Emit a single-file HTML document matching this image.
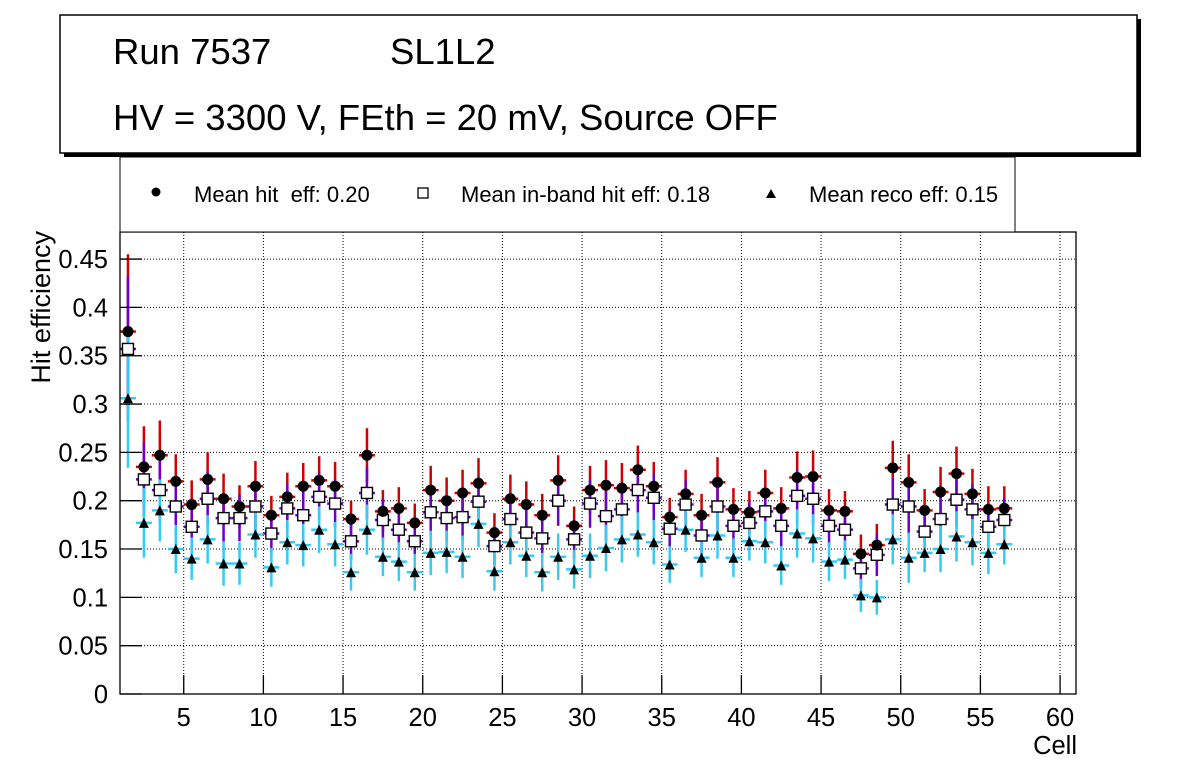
<!DOCTYPE html>
<html><head><meta charset="utf-8"><style>
body{margin:0;background:#fff;}
svg text{font-family:"Liberation Sans",sans-serif;}
</style></head><body>
<svg id="c" width="1196" height="772" xmlns="http://www.w3.org/2000/svg">
<rect x="0" y="0" width="1196" height="772" fill="#fff"/>
<g id="plot"></g>
<rect x="64" y="19" width="1077" height="138" fill="#000"/>
<rect x="60" y="15" width="1077" height="138" fill="#fff" stroke="#000" stroke-width="1.5"/>
<text x="113" y="64" font-size="36.5">Run 7537</text>
<text x="390" y="64" font-size="36.5">SL1L2</text>
<text x="113" y="130" font-size="36.5">HV = 3300 V, FEth = 20 mV, Source OFF</text>
<g>
<rect x="120" y="157" width="895" height="75" fill="#fff" stroke="#000" stroke-width="1"/>
<circle cx="156" cy="192" r="4.5" fill="#000"/>
<text x="194" y="202" font-size="22" xml:space="preserve">Mean hit  eff: 0.20</text>
<rect x="418" y="188" width="10" height="10" fill="#fff" stroke="#000" stroke-width="1.3"/>
<text x="461" y="202" font-size="22">Mean in-band hit eff: 0.18</text>
<path d="M766 198 L771 189 L776 198 Z" fill="#000"/>
<text x="809" y="202" font-size="22">Mean reco eff: 0.15</text>
</g>
</svg>
<script>
const cells=[];for(let i=1;i<=56;i++)cells.push(i+0.5);
const hitEff=[0.375,0.235,0.247,0.220,0.196,0.222,0.202,0.194,0.215,0.185,0.204,0.215,0.221,0.215,0.181,0.247,0.189,0.192,0.177,0.211,0.200,0.208,0.218,0.167,0.202,0.196,0.185,0.221,0.174,0.211,0.216,0.213,0.232,0.215,0.183,0.207,0.185,0.219,0.191,0.188,0.208,0.192,0.224,0.225,0.190,0.189,0.145,0.154,0.234,0.219,0.190,0.209,0.228,0.207,0.191,0.192];
const inbandEff=[0.357,0.222,0.211,0.194,0.173,0.202,0.182,0.182,0.194,0.166,0.192,0.185,0.204,0.197,0.158,0.208,0.180,0.170,0.158,0.188,0.182,0.183,0.199,0.153,0.181,0.167,0.161,0.200,0.160,0.197,0.184,0.191,0.211,0.203,0.171,0.196,0.164,0.194,0.174,0.177,0.189,0.174,0.205,0.202,0.174,0.170,0.130,0.144,0.196,0.194,0.168,0.181,0.201,0.191,0.173,0.180];
const recoEff=[0.306,0.177,0.190,0.150,0.140,0.160,0.135,0.135,0.165,0.131,0.157,0.154,0.170,0.155,0.126,0.170,0.142,0.137,0.126,0.146,0.147,0.142,0.176,0.127,0.157,0.143,0.126,0.142,0.129,0.143,0.151,0.160,0.165,0.157,0.134,0.170,0.141,0.164,0.141,0.158,0.157,0.133,0.166,0.161,0.137,0.139,0.102,0.100,0.160,0.141,0.146,0.150,0.163,0.157,0.146,0.155];
const hitErr=[0.08,0.042,0.036,0.028,0.025,0.028,0.026,0.022,0.026,0.02,0.025,0.024,0.025,0.025,0.019,0.028,0.022,0.022,0.02,0.025,0.024,0.024,0.026,0.02,0.025,0.024,0.022,0.026,0.02,0.025,0.026,0.026,0.025,0.025,0.02,0.025,0.022,0.026,0.022,0.022,0.024,0.022,0.027,0.027,0.022,0.021,0.02,0.022,0.028,0.029,0.022,0.026,0.028,0.026,0.024,0.023];
const inbandErr=[0.075,0.038,0.035,0.027,0.024,0.028,0.025,0.024,0.026,0.02,0.025,0.024,0.025,0.025,0.019,0.027,0.022,0.022,0.02,0.025,0.024,0.024,0.026,0.02,0.025,0.024,0.022,0.026,0.02,0.025,0.026,0.026,0.025,0.025,0.02,0.025,0.022,0.026,0.022,0.022,0.024,0.022,0.027,0.027,0.022,0.021,0.02,0.022,0.028,0.029,0.022,0.026,0.028,0.026,0.024,0.023];
const recoErr=[0.072,0.036,0.032,0.025,0.022,0.025,0.023,0.022,0.024,0.02,0.023,0.022,0.024,0.023,0.019,0.026,0.02,0.02,0.019,0.023,0.022,0.022,0.024,0.02,0.023,0.022,0.02,0.024,0.02,0.023,0.024,0.024,0.023,0.023,0.019,0.023,0.02,0.024,0.02,0.02,0.022,0.02,0.025,0.025,0.02,0.02,0.017,0.018,0.026,0.026,0.02,0.024,0.026,0.024,0.022,0.021];
const yTicks=[0,0.05,0.1,0.15,0.2,0.25,0.3,0.35,0.4,0.45];
const yTickLabels=["0","0.05","0.1","0.15","0.2","0.25","0.3","0.35","0.4","0.45"];
const xTicks=[5,10,15,20,25,30,35,40,45,50,55,60];

const L=120,R=1076,T=232,B=694,X0=1,X1=61,Y0=0,Y1=0.478;
const sx=v=>L+(v-X0)/(X1-X0)*(R-L);
const sy=v=>B-(v-Y0)/(Y1-Y0)*(B-T);
const NS="http://www.w3.org/2000/svg";
const g=document.getElementById('plot');
function mk(tag,at,parent){const e=document.createElementNS(NS,tag);for(const k in at)e.setAttribute(k,at[k]);(parent||g).appendChild(e);return e;}

const grid=mk('g',{});


yTicks.forEach(v=>{if(v>0)mk('line',{x1:L,x2:R,y1:sy(v),y2:sy(v),stroke:'#000','stroke-dasharray':'1,2','stroke-width':1},grid);});
xTicks.forEach(v=>mk('line',{x1:sx(v),x2:sx(v),y1:T,y2:B,stroke:'#000','stroke-dasharray':'1,2','stroke-width':1},grid));

const series=[
 {name:'hit',vals:hitEff,err:hitErr,color:'#d00000'},
 {name:'inband',vals:inbandEff,err:inbandErr,color:'#6a00cc'},
 {name:'reco',vals:recoEff,err:recoErr,color:'#33ccf5'}];
series.forEach(s=>{
 const sg=mk('g',{});
 
 
 cells.forEach((c,i)=>{
  const x=sx(c),y=sy(s.vals[i]);
  mk('line',{x1:x,x2:x,y1:sy(s.vals[i]+s.err[i]),y2:sy(s.vals[i]-s.err[i]),stroke:s.color,'stroke-width':2.5},sg);
  mk('line',{x1:sx(c-0.5),x2:sx(c+0.5),y1:y,y2:y,stroke:s.color,'stroke-width':2.5},sg);
 });
});
const mg=mk('g',{});


cells.forEach((c,i)=>{
 const x=sx(c);
 const q=mk('rect',{x:x-5.5,y:sy(inbandEff[i])-5.5,width:11,height:11,fill:'#fff',stroke:'#000','stroke-width':1.4},mg);
 
 
 const p=mk('circle',{cx:x,cy:sy(hitEff[i]),r:5.5,fill:'#000'},mg);
 
 
 const y=sy(recoEff[i]);
 const t=mk('path',{d:`M${x-5} ${y+5} L${x} ${y-5} L${x+5} ${y+5} Z`,fill:'#000'},mg);
 
 
});

const ax=mk('g',{});


mk('rect',{x:L,y:T,width:R-L,height:B-T,fill:'none',stroke:'#000','stroke-width':1.3},ax);
yTicks.forEach(v=>{const y=sy(v);mk('line',{x1:L,x2:L+22,y1:y,y2:y,stroke:'#000','stroke-width':1.3},ax);});
xTicks.forEach(v=>{const x=sx(v);mk('line',{x1:x,x2:x,y1:B,y2:B-19,stroke:'#000','stroke-width':1.3},ax);});
yTicks.forEach((v,i)=>{const t=mk('text',{x:108,y:sy(v)+9,'font-size':25.5,'text-anchor':'end'},ax);t.textContent=yTickLabels[i];
 
 });
xTicks.forEach(v=>{const t=mk('text',{x:sx(v),y:726,'font-size':25.5,'text-anchor':'middle'},ax);t.textContent=v;
 
 });
const xt=mk('text',{x:1077,y:754,'font-size':25.5,'text-anchor':'end'},ax);xt.textContent='Cell';


const yt=mk('text',{x:50,y:231,'font-size':27,'text-anchor':'end',transform:'rotate(-90 50 231)'},ax);yt.textContent='Hit efficiency';


</script>
</body></html>
